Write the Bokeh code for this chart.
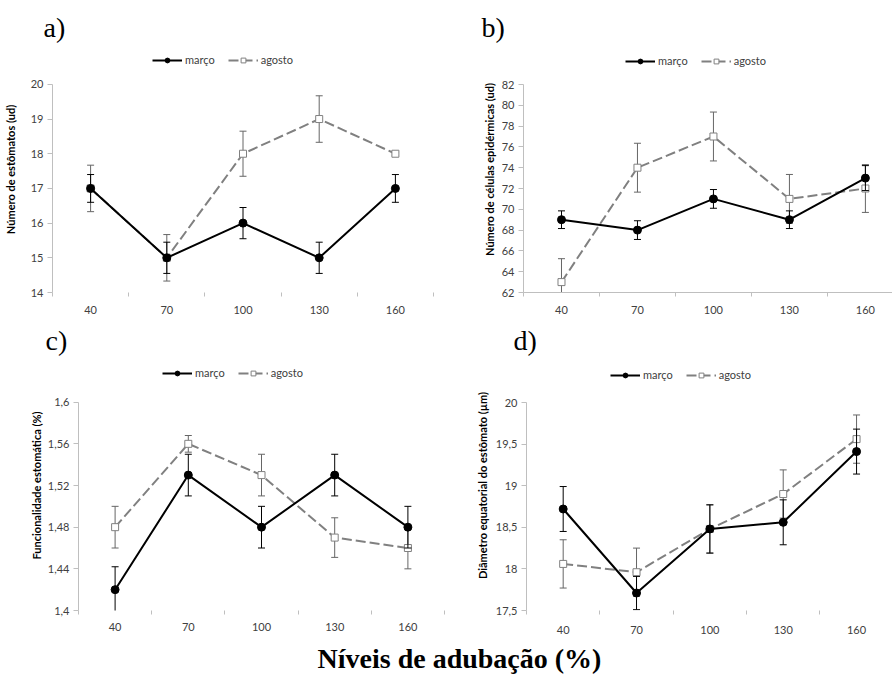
from bokeh.plotting import figure
from bokeh.models import ColumnDataSource, Range1d, FixedTicker, Label, Legend, LegendItem
from bokeh.layouts import column, row
from bokeh.embed import file_html
from bokeh.resources import INLINE
from bokeh.core.validation import silence
from bokeh.core.validation.warnings import MISSING_RENDERERS

silence(MISSING_RENDERERS, True)

# ---------------- data ----------------
niveis = [40, 70, 100, 130, 160]
x_bounds = [25, 55, 85, 115, 145, 175]

a_marco = [17, 15, 16, 15, 17]
a_marco_err = [0.4, 0.45, 0.45, 0.45, 0.4]
a_agosto = [17, 15, 18, 19, 18]
a_agosto_err = [0.67, 0.67, 0.65, 0.67, 0.05]
a_yticks = [14, 15, 16, 17, 18, 19, 20]
a_ylabels = ["14", "15", "16", "17", "18", "19", "20"]

b_marco = [69, 68, 71, 69, 73]
b_marco_err = [0.85, 0.9, 0.9, 0.85, 1.2]
b_agosto = [63, 74, 77, 71, 72]
b_agosto_err = [2.25, 2.35, 2.35, 2.35, 2.3]
b_yticks = [62, 64, 66, 68, 70, 72, 74, 76, 78, 80, 82]
b_ylabels = ["62", "64", "66", "68", "70", "72", "74", "76", "78", "80", "82"]

c_marco = [1.42, 1.53, 1.48, 1.53, 1.48]
c_marco_err = [0.022, 0.02, 0.02, 0.02, 0.02]
c_agosto = [1.48, 1.56, 1.53, 1.47, 1.46]
c_agosto_err = [0.02, 0.008, 0.02, 0.019, 0.02]
c_yticks = [1.4, 1.44, 1.48, 1.52, 1.56, 1.6]
c_ylabels = ["1,4", "1,44", "1,48", "1,52", "1,56", "1,6"]

d_marco = [18.72, 17.71, 18.48, 18.56, 19.41]
d_marco_err = [0.27, 0.2, 0.29, 0.27, 0.27]
d_agosto = [18.06, 17.96, 18.48, 18.9, 19.56]
d_agosto_err = [0.29, 0.29, 0.29, 0.29, 0.29]
d_yticks = [17.5, 18, 18.5, 19, 19.5, 20]
d_ylabels = ["17,5", "18", "18,5", "19", "19,5", "20"]

panel_tags = ["a)", "b)", "c)", "d)"]
x_title = "Níveis de adubação (%)"

TICK_FONT = "Lato"
TICK_COLOR = "#404040"
AXIS_GREY = "#bfbfbf"


def strip(width, height):
    s = figure(width=width, height=height, output_backend="svg", toolbar_location=None,
               x_axis_type=None, y_axis_type=None, x_range=Range1d(0, 1), y_range=Range1d(0, 1),
               min_border=0)
    s.outline_line_color = None
    s.grid.visible = False
    return s


def panel(ylabel, yticks, ylabels, marco, marco_err, agosto, agosto_err,
          width, height, left, right, bottom, ext_px, axis_px, xmax, xaxis_line,
          ylab_standoff, xlab_standoff, legend_xy):
    ymin, ymax = yticks[0], yticks[-1]
    ytop = ymax + (ymax - ymin) * ext_px / axis_px   # empty room above the axis for the legend
    p = figure(width=width, height=height, output_backend="svg", toolbar_location=None,
               x_range=Range1d(25, xmax), y_range=Range1d(ymin, ytop),
               min_border_left=left, min_border_right=right,
               min_border_top=0, min_border_bottom=bottom)
    p.outline_line_color = None
    p.grid.visible = False
    p.background_fill_color = "white"
    p.border_fill_color = "white"

    # x axis
    xa = p.xaxis[0]
    xa.ticker = FixedTicker(ticks=niveis, minor_ticks=x_bounds)
    xa.major_tick_out = 0
    xa.major_tick_in = 0
    xa.minor_tick_in = 0
    xa.minor_tick_out = 4
    xa.minor_tick_line_color = AXIS_GREY
    xa.axis_line_color = AXIS_GREY if xaxis_line else None
    xa.major_label_text_font = TICK_FONT
    xa.major_label_text_font_size = "11px"
    xa.major_label_text_color = TICK_COLOR
    xa.major_label_standoff = xlab_standoff

    # y axis
    ya = p.yaxis[0]
    ya.bounds = (ymin, ymax)
    ya.ticker = FixedTicker(ticks=yticks)
    ya.major_label_overrides = dict(zip(yticks, ylabels))
    ya.major_tick_out = 5
    ya.major_tick_in = 0
    ya.minor_tick_line_color = None
    ya.major_tick_line_color = AXIS_GREY
    ya.axis_line_color = AXIS_GREY
    ya.major_label_text_font = TICK_FONT
    ya.major_label_text_font_size = "11px"
    ya.major_label_text_color = TICK_COLOR
    ya.major_label_standoff = 4
    ya.axis_label = ylabel
    ya.axis_label_text_font = TICK_FONT
    ya.axis_label_text_font_style = "bold"
    ya.axis_label_text_font_size = "11px"
    ya.axis_label_text_color = "black"
    ya.axis_label_standoff = ylab_standoff

    src_a = ColumnDataSource(dict(x=niveis, y=agosto,
                                  lo=[v - e for v, e in zip(agosto, agosto_err)],
                                  hi=[v + e for v, e in zip(agosto, agosto_err)]))
    src_m = ColumnDataSource(dict(x=niveis, y=marco,
                                  lo=[v - e for v, e in zip(marco, marco_err)],
                                  hi=[v + e for v, e in zip(marco, marco_err)]))

    # agosto (drawn first)
    p.segment(x0="x", y0="lo", x1="x", y1="hi", source=src_a, line_color="#666666", line_width=1)
    p.scatter(x="x", y="lo", source=src_a, marker="dash", size=7, line_color="#666666", line_width=1)
    p.scatter(x="x", y="hi", source=src_a, marker="dash", size=7, line_color="#666666", line_width=1)
    la = p.line(x="x", y="y", source=src_a, line_color="#808080", line_width=2, line_dash="10 4")
    sa = p.scatter(x="x", y="y", source=src_a, marker="square", size=7, line_color="#808080",
                   fill_color="white", line_width=1)

    # março
    p.segment(x0="x", y0="lo", x1="x", y1="hi", source=src_m, line_color="black", line_width=1)
    p.scatter(x="x", y="lo", source=src_m, marker="dash", size=7, line_color="black", line_width=1)
    p.scatter(x="x", y="hi", source=src_m, marker="dash", size=7, line_color="black", line_width=1)
    lm = p.line(x="x", y="y", source=src_m, line_color="black", line_width=2)
    sm = p.scatter(x="x", y="y", source=src_m, marker="circle", size=8, line_color="black",
                   fill_color="black")

    legend = Legend(items=[LegendItem(label="março", renderers=[lm, sm]),
                           LegendItem(label="agosto", renderers=[la, sa])],
                    orientation="horizontal", location=legend_xy,
                    glyph_width=30, glyph_height=12, label_height=12, label_standoff=3,
                    spacing=13, padding=0, margin=0, border_line_color=None,
                    background_fill_alpha=0, label_text_font=TICK_FONT,
                    label_text_font_size="11px", label_text_color=TICK_COLOR)
    p.add_layout(legend)
    return p


def tag_label(text, x, y):
    return Label(x=x, y=y, x_units="screen", y_units="screen", text=text,
                 text_font="Liberation Serif", text_font_size="28px",
                 text_baseline="alphabetic", text_color="black")


head_top = strip(892, 46)
head_top.add_layout(tag_label(panel_tags[0], 43, 19))
head_top.add_layout(tag_label(panel_tags[1], 481, 19))

pa = panel("Número de estômatos (ud)", a_yticks, a_ylabels,
           a_marco, a_marco_err, a_agosto, a_agosto_err,
           446, 274, 51, 13, 27, 38, 209, 175, False, 11, 9, (100, 226))
pb = panel("Número de células epidérmicas (ud)", b_yticks, b_ylabels,
           b_marco, b_marco_err, b_agosto, b_agosto_err,
           446, 274, 77, 0, 28, 38, 208, 170.7, True, 3, 9, (102, 225))

head_bot = strip(892, 40)
head_bot.add_layout(tag_label(panel_tags[2], 45, 20))
head_bot.add_layout(tag_label(panel_tags[3], 513, 20))

pc = panel("Funcionalidade estomática (%)", c_yticks, c_ylabels,
           c_marco, c_marco_err, c_agosto, c_agosto_err,
           446, 280, 78, 2, 28, 42, 210, 175, False, 2, 8, (84, 231))
pd_ = panel("Diâmetro equatorial do estômato (µm)", d_yticks, d_ylabels,
            d_marco, d_marco_err, d_agosto, d_agosto_err,
            446, 280, 80, 0, 30, 42, 208, 174.7, False, 4, 11, (84, 229))

foot = strip(892, 34)
foot.add_layout(Label(x=459, y=16, x_units="screen", y_units="screen",
                      text=x_title, text_align="center",
                      text_font="Liberation Serif", text_font_style="bold",
                      text_font_size="28px", text_baseline="alphabetic", text_color="black"))

layout = column(head_top, row(pa, pb), head_bot, row(pc, pd_), foot)

with open("out.html", "w") as f:
    f.write(file_html(layout, INLINE))
